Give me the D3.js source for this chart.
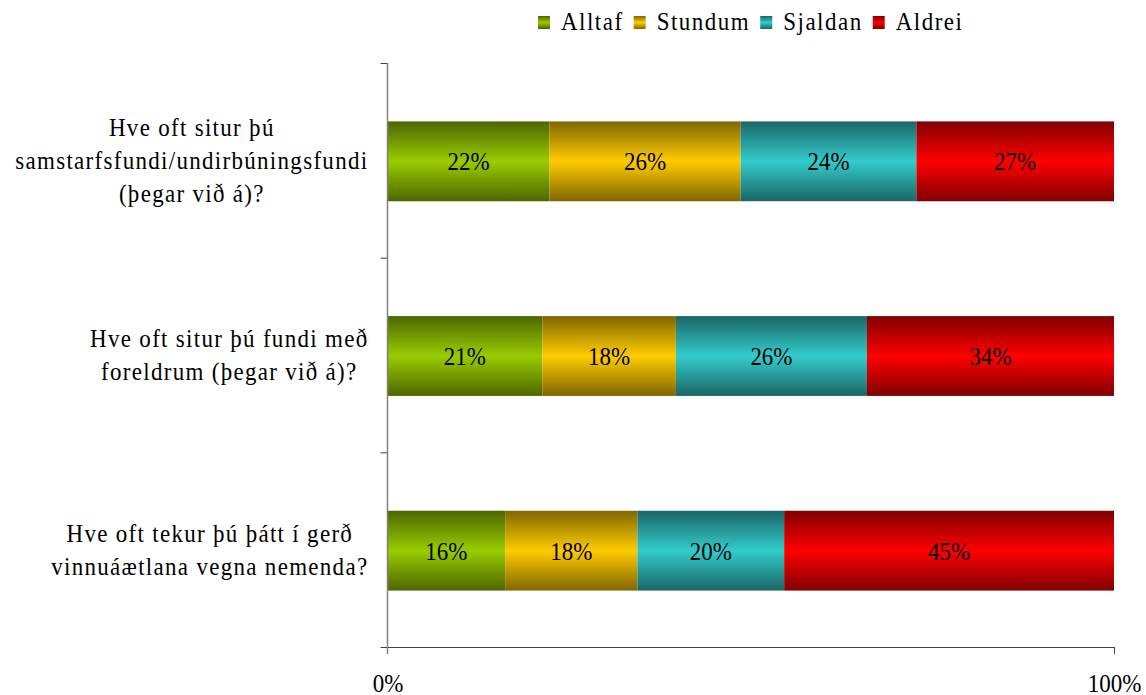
<!DOCTYPE html>
<html>
<head>
<meta charset="utf-8">
<script src="https://cdn.jsdelivr.net/npm/d3@7"></script>
<style>
  body { margin: 0; background: #fff; }
</style>
</head>
<body>
<div id="chart"></div>
<script>
// chart data
var questions = [
  "Hve oft situr þú\nsamstarfsfundi/undirbúningsfundi\n(þegar við á)?",
  "Hve oft situr þú fundi með\nforeldrum (þegar við á)?",
  "Hve oft tekur þú þátt í gerð\nvinnuáætlana vegna nemenda?"
];
var answers = ["Alltaf", "Stundum", "Sjaldan", "Aldrei"];
var alltaf  = [22.3, 21.3, 16.2];
var stundum = [26.3, 18.4, 18.2];
var sjaldan = [24.2, 26.3, 20.2];
var aldrei  = [27.2, 34.0, 45.4];
var xTicks = [0, 100];

var colors = {
  Alltaf:  ["#4d6600", "#99cc00"],
  Stundum: ["#806600", "#ffcc00"],
  Sjaldan: ["#1a6666", "#33cccc"],
  Aldrei:  ["#800000", "#ff0000"]
};

var svgWidth = 1146;
var svgHeight = 695;
var margin = { top: 63, right: 32, bottom: 48, left: 387.5 };
var width = svgWidth - margin.left - margin.right;
var height = svgHeight - margin.top - margin.bottom;
var fontSize = 23;
var serif = "'Liberation Serif', 'Times New Roman', serif";

// the original text is a bit taller than plain Times, stretch it vertically
function stretch(sel) {
  sel.each(function() {
    var t = d3.select(this);
    var x = +t.attr("x") || 0, y = +t.attr("y") || 0;
    t.attr("x", 0).attr("y", 0)
      .attr("transform", `translate(${x}, ${y}) scale(1, 1.12)`);
  });
}

var svg = d3.select("#chart")
  .append("svg")
  .attr("width", svgWidth)
  .attr("height", svgHeight)
  .style("font-family", serif);

// vertical gradients, dark edges with bright middle
var defs = svg.append("defs");
answers.forEach(function(a) {
  var g = defs.append("linearGradient")
    .attr("id", "grad-" + a)
    .attr("x1", 0).attr("y1", 0).attr("x2", 0).attr("y2", 1);
  g.append("stop").attr("offset", "0%").attr("stop-color", colors[a][0]);
  g.append("stop").attr("offset", "50%").attr("stop-color", colors[a][1]);
  g.append("stop").attr("offset", "100%").attr("stop-color", colors[a][0]);
});

var chartGroup = svg.append("g")
  .attr("transform", `translate(${margin.left}, ${margin.top})`);

// build rows for stacking
var rows = questions.map(function(q, i) {
  return { question: q, Alltaf: alltaf[i], Stundum: stundum[i], Sjaldan: sjaldan[i], Aldrei: aldrei[i] };
});
var stack = d3.stack().keys(answers).offset(d3.stackOffsetExpand);
var series = stack(rows);

var xScale = d3.scaleLinear().domain([0, 1]).range([0, width]);
var yScale = d3.scaleBand().domain(questions).range([0, height]).padding(0);
var barH = yScale.bandwidth() * 0.41;

// bars
var layers = chartGroup.selectAll(".layer")
  .data(series)
  .enter()
  .append("g")
  .attr("class", "layer")
  .attr("fill", d => `url(#grad-${d.key})`);

layers.selectAll("rect")
  .data(d => d)
  .enter()
  .append("rect")
  .attr("x", d => xScale(d[0]))
  .attr("y", d => yScale(d.data.question) + yScale.bandwidth() / 2 - barH / 2 + 1)
  .attr("width", d => xScale(d[1]) - xScale(d[0]))
  .attr("height", barH);

// value labels
layers.selectAll("text")
  .data(d => d.map(p => ({ p: p, key: d.key })))
  .enter()
  .append("text")
  .attr("x", d => (xScale(d.p[0]) + xScale(d.p[1])) / 2)
  .attr("y", d => yScale(d.p.data.question) + yScale.bandwidth() / 2 + 1)
  .attr("dy", "0.35em")
  .attr("text-anchor", "middle")
  .attr("fill", "#000")
  .style("font-family", serif)
  .style("font-size", fontSize + "px")
  .text(d => Math.round(d.p.data[d.key]) + "%")
  .call(stretch);

// y axis: ticks at band edges
var yEdge = d3.scaleLinear().domain([0, questions.length]).range([0, height]);
var yAxis = chartGroup.append("g")
  .call(d3.axisLeft(yEdge).tickValues(d3.range(questions.length + 1)).tickSize(7).tickFormat(""));
yAxis.select(".domain").remove();
yAxis.selectAll("line").attr("stroke", "#404040");
chartGroup.append("line")
  .attr("x1", 0).attr("x2", 0)
  .attr("y1", 0).attr("y2", height + 7)
  .attr("stroke", "#808080")
  .attr("stroke-width", 1.5);

// x axis
var xAxis = chartGroup.append("g")
  .attr("transform", `translate(0, ${height})`)
  .call(d3.axisBottom(xScale.copy().domain([0, 100]))
    .tickValues(xTicks)
    .tickSize(7)
    .tickSizeOuter(0)
    .tickPadding(20)
    .tickFormat(d => d + "%"));
xAxis.select(".domain").attr("stroke", "#404040");
xAxis.selectAll("line").attr("stroke", "#404040");
xAxis.selectAll("text")
  .attr("fill", "#000")
  .style("font-family", serif)
  .style("font-size", fontSize + "px")
  .call(stretch);
xAxis.select(".tick:first-of-type line").remove();

// category labels, right aligned blocks with centred lines
var labelRight = 368.5 - margin.left;
var lineGap = 33;
questions.forEach(function(q) {
  var lines = q.split("\n");
  var cy = yScale(q) + yScale.bandwidth() / 2 + 1;
  var g = chartGroup.append("g");
  var texts = g.selectAll("text")
    .data(lines)
    .enter()
    .append("text")
    .style("font-family", serif)
    .style("font-size", fontSize + "px")
    .style("letter-spacing", "1.3px")
    .attr("text-anchor", "middle")
    .attr("fill", "#000")
    .attr("y", (d, i) => cy + 7.5 + (i - (lines.length - 1) / 2) * lineGap)
    .text(d => d);
  var maxW = d3.max(texts.nodes(), n => n.getComputedTextLength());
  texts.attr("x", labelRight - maxW / 2).call(stretch);
});

// legend centred over the plot
var legend = svg.append("g");
var lx = 0;
answers.forEach(function(a) {
  var item = legend.append("g").attr("transform", `translate(${lx}, 0)`);
  item.append("rect")
    .attr("x", 0).attr("y", 16)
    .attr("width", 12).attr("height", 13)
    .attr("fill", `url(#grad-${a})`);
  var t = item.append("text")
    .attr("x", 23).attr("y", 30)
    .attr("fill", "#000")
    .style("font-family", serif)
    .style("font-size", fontSize + "px")
    .style("letter-spacing", "1.5px")
    .text(a);
  lx += 23 + t.node().getComputedTextLength() + 10;
  t.call(stretch);
});
var legendW = lx - 10;
legend.attr("transform", `translate(${margin.left + width / 2 - legendW / 2}, 0)`);
</script>
</body>
</html>
